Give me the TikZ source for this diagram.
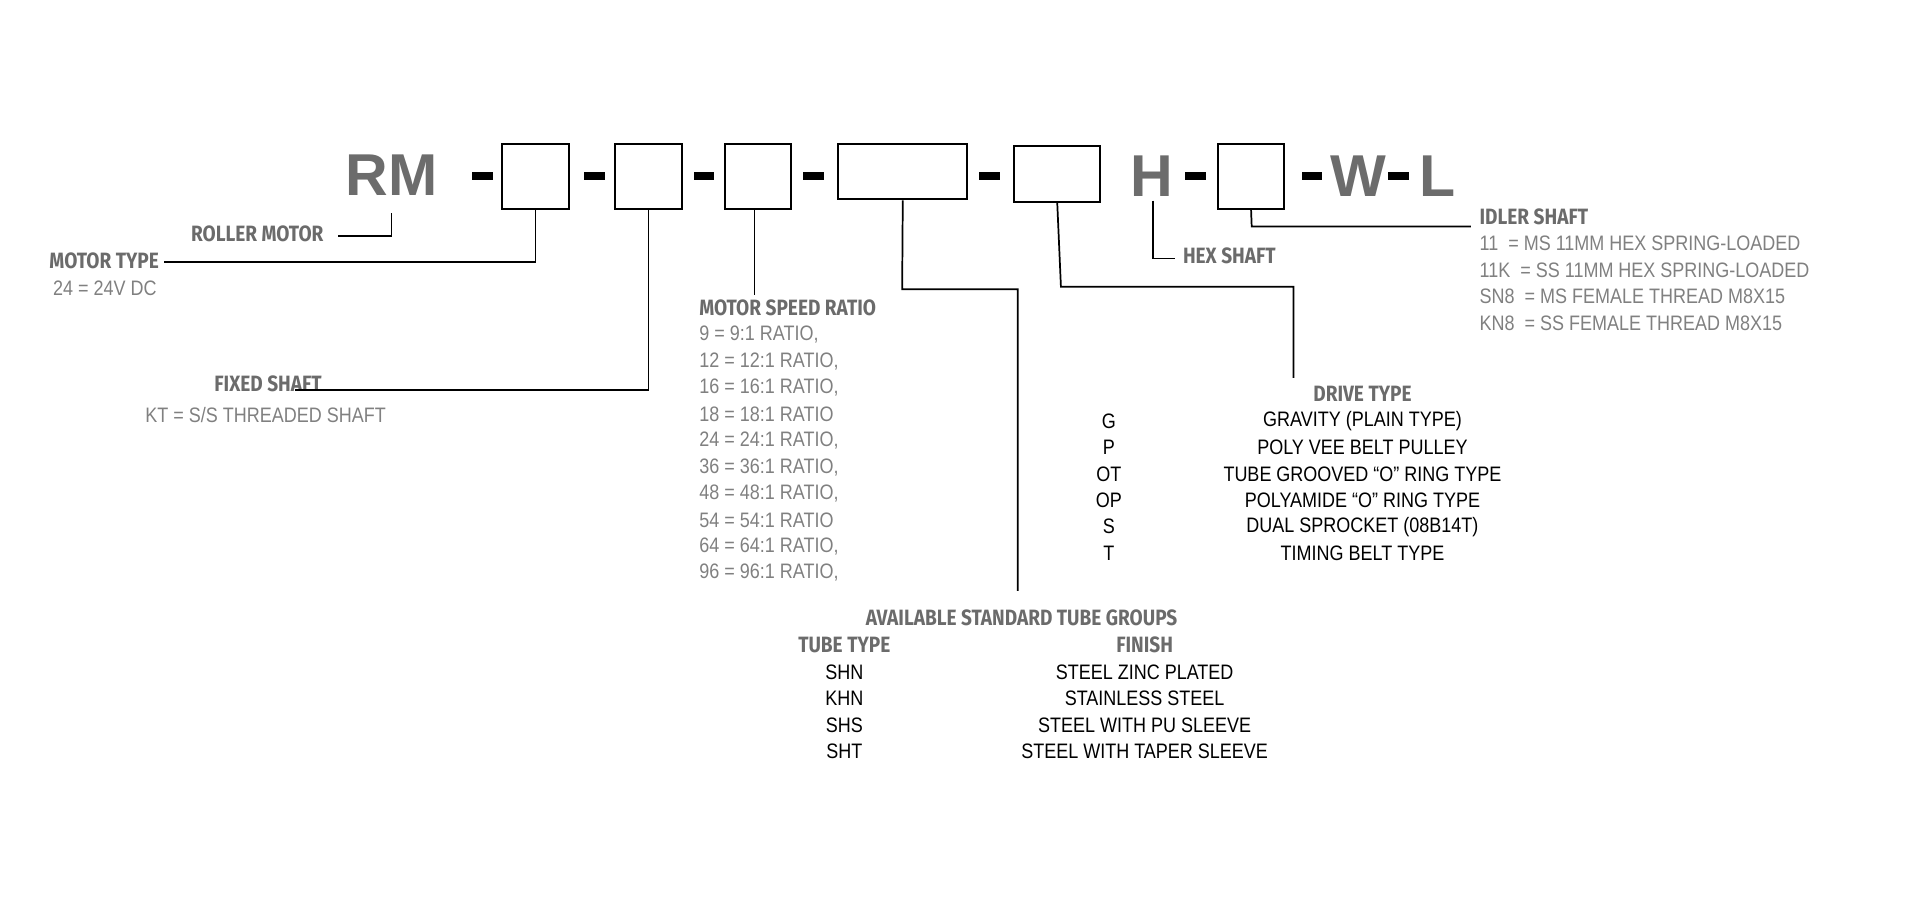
\documentclass[tikz,border=0pt]{standalone}
\usepackage{fontspec}
\setmainfont{Liberation Sans}
\newfontfamily\nar{Liberation Sans}[FakeStretch=0.86]
\newfontfamily\bnar{Fira Sans}[FakeStretch=0.86]
\begin{document}
\begin{tikzpicture}[x=1pt,y=-1pt,
  box/.style={draw=black,line width=1.6pt},
  con/.style={draw=black,line width=1.4pt},
  big/.style={font=\fontsize{48}{48}\selectfont\bfseries,text=gray!85!black,inner sep=0},
  bar/.style={fill=black,minimum width=17pt,minimum height=7pt,inner sep=0},
  lab/.style={font=\bnar\fontsize{18}{18}\selectfont\bfseries,text=black!58,inner sep=0},
  lst/.style={font=\nar\fontsize{17}{17}\selectfont,text=black!50,inner sep=0},
  blk/.style={font=\nar\fontsize{17}{17}\selectfont,text=black,inner sep=0}]
\useasboundingbox (0,0) rectangle (1560,731);
% code row
\node[big] (rm) at (318,142) {RM};
\foreach \i/\x in {1/392,2/483,3/572,4/661,5/804,6/971,7/1066,8/1136}{\node[bar] (d\i) at (\x,143) {};}
\node[box,minimum width=54pt,minimum height=53pt] (b1) at (435,143.5) {};
\node[box,minimum width=54pt,minimum height=53pt] (b2) at (527,143.5) {};
\node[box,minimum width=54pt,minimum height=53pt] (b3) at (616,143.5) {};
\node[box,minimum width=105pt,minimum height=45pt] (b4) at (733.5,139.5) {};
\node[box,minimum width=70pt,minimum height=45pt] (b5) at (859,141.5) {};
\node[big] (h) at (936,143) {H};
\node[box,minimum width=53pt,minimum height=53pt] (b6) at (1016.5,143.5) {};
\node[big] (w) at (1104,143) {W};
\node[big] (l) at (1168,143) {L};
% labels
\node[lab,anchor=east] (rml) at (263,190) {ROLLER MOTOR};
\draw[con] (275,192) -| (rm.south |- 0,173);
\node[lab,anchor=west] (mt) at (40,212) {MOTOR TYPE};
\node[lst,anchor=west] (mt1) at (43,234) {24 = 24V DC};
\draw[con] (mt.east) ++(4,1) -| (b1.south);
\node[lab,anchor=west] (fs) at (174,312) {FIXED SHAFT};
\node[lst,anchor=west] (fs1) at (118,337) {KT = S/S THREADED SHAFT};
\draw[con] (240,317) -| (b2.south);
\coordinate (c3) at (613,240);
\draw[con] (b3.south -| c3) -- (c3);
\node[lab,anchor=west] (ms) at (568,250) {MOTOR SPEED RATIO};
\node[lst,anchor=west] (r1) at (568,272) {9 = 9:1 RATIO,};
\node[lst,anchor=west] (r2) at (568,293.5) {12 = 12:1 RATIO,};
\node[lst,anchor=west] (r3) at (568,315) {16 = 16:1 RATIO,};
\node[lst,anchor=west] (r4) at (568,336.5) {18 = 18:1 RATIO};
\node[lst,anchor=west] (r5) at (568,358) {24 = 24:1 RATIO,};
\node[lst,anchor=west] (r6) at (568,379.5) {36 = 36:1 RATIO,};
\node[lst,anchor=west] (r7) at (568,401) {48 = 48:1 RATIO,};
\node[lst,anchor=west] (r8) at (568,422.5) {54 = 54:1 RATIO};
\node[lst,anchor=west] (r9) at (568,444) {64 = 64:1 RATIO,};
\node[lst,anchor=west] (r10) at (568,465.5) {96 = 96:1 RATIO,};
% tube groups
\coordinate (c4) at (827,480);
\draw[con] (b4.south) -- (733,235) -| (c4);
\node[lab] (tg) at (830,502) {AVAILABLE STANDARD TUBE GROUPS};
\node[lab] (tt) at (686,524) {TUBE TYPE};
\node[lab] (fi) at (930,524) {FINISH};
\foreach \c/\f/\y in {SHN/STEEL ZINC PLATED/546,KHN/STAINLESS STEEL/567.5,SHS/STEEL WITH PU SLEEVE/589,SHT/STEEL WITH TAPER SLEEVE/610.5}{
  \node[blk] (t\c) at (686,\y) {\c};
  \node[blk] (f\c) at (930,\y) {\f};}
% drive type
\coordinate (c5) at (1051,307);
\draw[con] (b5.south) -- (862,233) -| (c5);
\node[lab] (dt) at (1107,320) {DRIVE TYPE};
\foreach \c/\f/\y in {G/GRAVITY (PLAIN TYPE)/342,P/POLY VEE BELT PULLEY/363.5,OT/TUBE GROOVED “O” RING TYPE/385,OP/POLYAMIDE “O” RING TYPE/406.5,S/DUAL SPROCKET (08B14T)/428,T/TIMING BELT TYPE/449.5}{
  \node[blk] (dc\c) at (901,\y) {\c};
  \node[blk] (dd\c) at (1107,\y) {\f};}
% hex shaft
\node[lab,anchor=west] (hs) at (961,208) {HEX SHAFT};
\draw[con] (937,163) |- (955,210);
% idler shaft
\node[lab,anchor=west] (is) at (1202,176) {IDLER SHAFT};
\draw[con] (b6.south) -- (1017,184) -- (1195,184);
\node[lst,anchor=west] (i1) at (1202,198) {11\ \ =\ MS 11MM HEX SPRING-LOADED};
\node[lst,anchor=west] (i2) at (1202,219.5) {11K\ \ =\ SS 11MM HEX SPRING-LOADED};
\node[lst,anchor=west] (i3) at (1202,241) {SN8\ \ =\ MS FEMALE THREAD M8X15};
\node[lst,anchor=west] (i4) at (1202,262.5) {KN8\ \ =\ SS FEMALE THREAD M8X15};
\end{tikzpicture}
\end{document}
